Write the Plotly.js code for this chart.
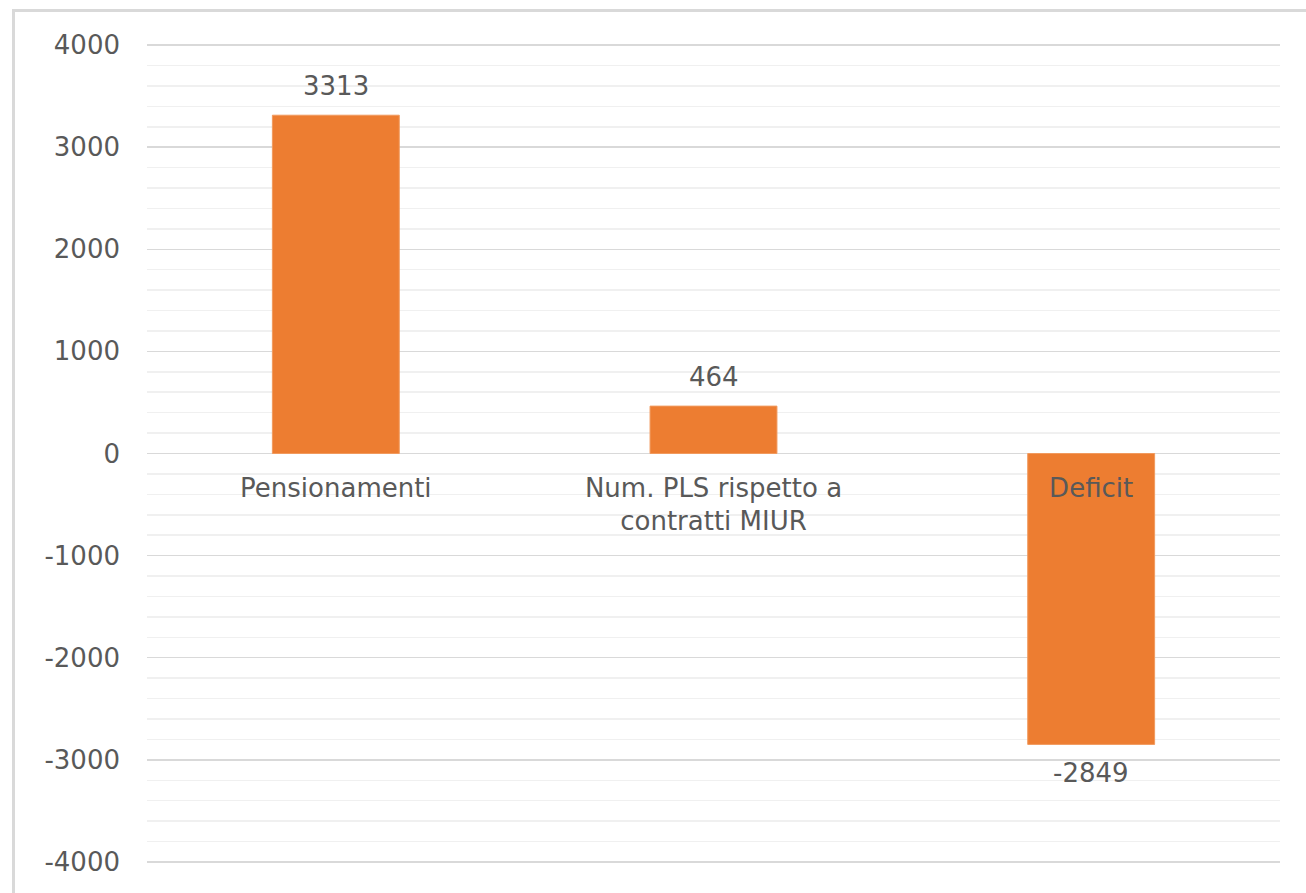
<!DOCTYPE html>
<html>
<head>
<meta charset="utf-8">
<script src="https://cdn.plot.ly/plotly-3.0.1.min.js"></script>
<style>
  html, body { margin: 0; padding: 0; background: #ffffff; }
  #wrap { position: relative; width: 1306px; height: 893px; overflow: hidden; }
  #chart { position: absolute; left: 0; top: 0; width: 1306px; height: 893px; }
  #frame { position: absolute; left: 12px; top: 9px; width: 1400px; height: 1000px;
           border-left: 3px solid #d9d9d9; border-top: 3px solid #d9d9d9; pointer-events: none; }
</style>
</head>
<body>
<div id="wrap">
  <div id="chart"></div>
  <div id="frame"></div>
</div>
<script>
const categories = ["Pensionamenti", "Num. PLS rispetto a<br>contratti MIUR", "Deficit"];
const values = [3313, 464, -2849];
const yTickValues = [-4000, -3000, -2000, -1000, 0, 1000, 2000, 3000, 4000];

const textColor = "#595959";
const fontFamily = "DejaVu Sans, Open Sans, sans-serif";

const trace = {
  type: "bar",
  x: categories,
  y: values,
  marker: { color: "#ED7D31", line: { color: "#F19A5E", width: 1 } },
  width: 0.336,
  hoverinfo: "skip"
};

const annotations = values.map((v, i) => ({
  x: categories[i],
  y: v,
  xref: "x",
  yref: "y",
  text: String(v),
  showarrow: false,
  yanchor: v >= 0 ? "bottom" : "top",
  yshift: v >= 0 ? 12 : -12,
  font: { family: fontFamily, size: 26, color: textColor }
}));

const layout = {
  width: 1306,
  height: 893,
  margin: { l: 147, r: 26, t: 42, b: 28 },
  paper_bgcolor: "#ffffff",
  plot_bgcolor: "#ffffff",
  showlegend: false,
  bargap: 0.664,
  font: { family: fontFamily, size: 26, color: textColor },
  xaxis: {
    type: "category",
    anchor: "free",
    position: 0.5,
    showgrid: false,
    showline: false,
    zeroline: false,
    ticks: "",
    ticklabelstandoff: 16,
    tickfont: { family: fontFamily, size: 26, color: textColor },
    layer: "above traces",
    fixedrange: true
  },
  yaxis: {
    range: [-4030, 4030],
    tickvals: yTickValues,
    ticktext: yTickValues.map(String),
    showgrid: true,
    gridcolor: "#d9d9d9",
    gridwidth: 1.5,
    zeroline: false,
    showline: false,
    ticks: "",
    ticklabelstandoff: 26,
    tickfont: { family: fontFamily, size: 26, color: textColor },
    minor: { dtick: 200, tick0: 0, showgrid: true, gridcolor: "#f0f0f0", gridwidth: 1.5 },
    layer: "below traces",
    fixedrange: true
  },
  annotations: annotations
};

Plotly.newPlot("chart", [trace], layout, { displayModeBar: false, staticPlot: true });
</script>
</body>
</html>
